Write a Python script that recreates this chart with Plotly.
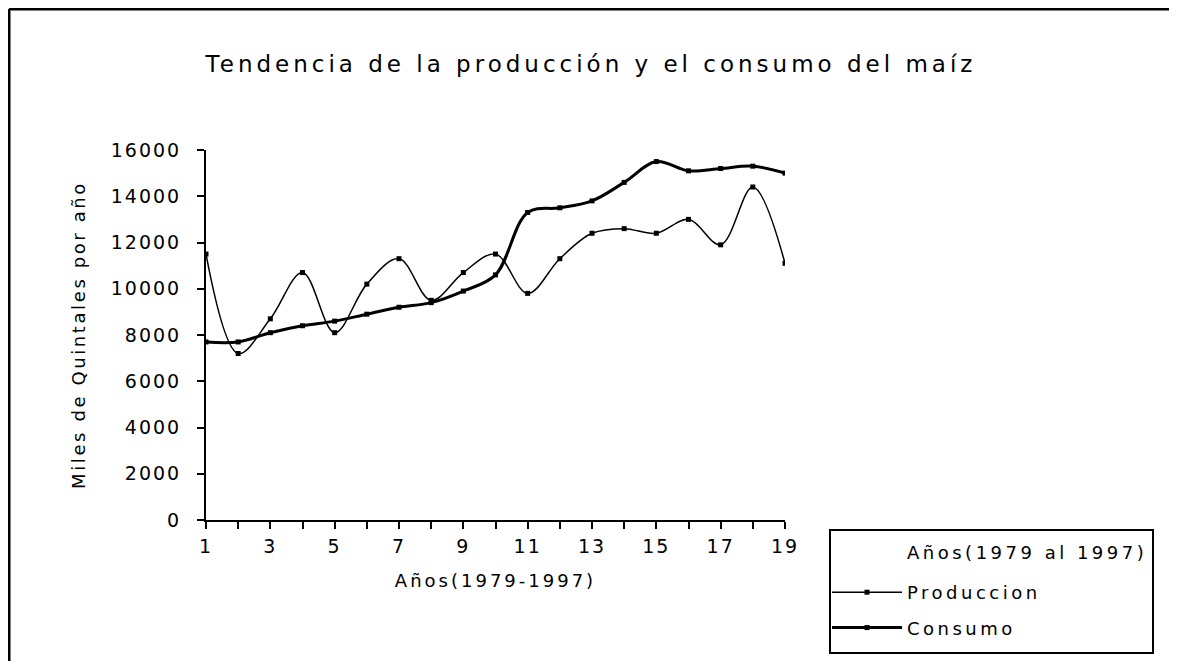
import plotly.graph_objects as go

# ---- Data ----
anios = list(range(1, 20))
x_tick_labels = [str(v) if v % 2 == 1 else "" for v in anios]
produccion = [11500, 7200, 8700, 10700, 8100, 10200, 11300, 9500, 10700, 11500,
              9800, 11300, 12400, 12600, 12400, 13000, 11900, 14400, 11100]
consumo = [7700, 7700, 8100, 8400, 8600, 8900, 9200, 9400, 9900, 10600,
           13300, 13500, 13800, 14600, 15500, 15100, 15200, 15300, 15000]
y_ticks = list(range(0, 16001, 2000))
y_tick_labels = [str(v) for v in y_ticks]

titulo = "Tendencia de la producción y el consumo del maíz"
titulo_x = "Años(1979-1997)"
titulo_y = "Miles de Quintales por año"
titulo_leyenda = "Años(1979 al 1997)"

FONT = "DejaVu Sans"


def spaced(txt, px):
    return f'<span style="letter-spacing:{px}px">{txt}</span>' if txt else ""


# The page body adds an 8px margin; lay the figure out 8px smaller/earlier
OFF = 8
W, H = 1177 - OFF, 661 - OFF
L, R, T, B = 206 - OFF, W - (785 - OFF), 150 - OFF, H - (520 - OFF)
pw, ph = W - L - R, H - T - B


def px_x(px):  # screen px -> paper x
    return (px - OFF - L) / pw


def px_y(py):  # screen px -> paper y
    return (H - B - (py - OFF)) / ph


fig = go.Figure()
fig.add_trace(go.Scatter(
    x=anios, y=produccion, name=spaced("Produccion", 3.5), mode="lines+markers",
    legendgroup="p",
    line=dict(color="black", width=1.5, shape="spline", smoothing=1),
    marker=dict(symbol="square", size=5, color="black"),
))
fig.add_trace(go.Scatter(
    x=anios, y=consumo, name=spaced("Consumo", 3.5), mode="lines+markers",
    legendgroup="c",
    line=dict(color="black", width=3, shape="spline", smoothing=1),
    marker=dict(symbol="square", size=5, color="black"),
))

fig.update_layout(
    width=W, height=H,
    margin=dict(l=L, r=R, t=T, b=B, autoexpand=False),
    paper_bgcolor="white", plot_bgcolor="white",
    font=dict(family=FONT, color="black", size=18),
    title=dict(text=spaced(titulo, 4),
               font=dict(family=FONT, size=23, color="black"),
               x=(591 - OFF) / W, xref="container", xanchor="center",
               y=1 - (64 - OFF) / H, yref="container", yanchor="middle"),
    xaxis=dict(range=[1, 19], tickvals=anios,
               ticktext=[spaced(t, 2) for t in x_tick_labels],
               showgrid=False, zeroline=False, showline=True,
               linecolor="black", linewidth=2, ticks="outside", ticklen=7,
               tickwidth=1.5, tickcolor="black", ticklabelstandoff=1,
               tickfont=dict(family=FONT, size=19),
               title=dict(text=spaced(titulo_x, 3), standoff=19,
                          font=dict(family=FONT, size=18))),
    yaxis=dict(range=[0, 16000], tickvals=y_ticks,
               ticktext=[spaced(t, 2) for t in y_tick_labels],
               showgrid=False, zeroline=False, showline=True,
               linecolor="black", linewidth=2, ticks="outside", ticklen=7,
               tickwidth=1.5, tickcolor="black", ticklabelstandoff=12,
               tickfont=dict(family=FONT, size=19),
               title=dict(text=spaced(titulo_y, 2.6), standoff=20,
                          font=dict(family=FONT, size=18))),
    # overlay axes only to draw the inner half of the crossing tick marks
    xaxis2=dict(range=[1, 19], tickvals=anios, overlaying="x", anchor="y2",
                side="bottom", showticklabels=False, showgrid=False,
                zeroline=False, showline=False, ticks="inside", ticklen=5,
                tickwidth=1.5, tickcolor="black"),
    yaxis2=dict(range=[0, 16000], tickvals=y_ticks, overlaying="y", anchor="x2",
                side="left", showticklabels=False, showgrid=False,
                zeroline=False, showline=False, ticks="inside", ticklen=5,
                tickwidth=1.5, tickcolor="black"),
    showlegend=True,
    legend=dict(
        x=px_x(827), xanchor="left",
        y=px_y(610), yanchor="middle",
        borderwidth=0, bgcolor="rgba(0,0,0,0)",
        itemwidth=70, font=dict(family=FONT, size=18),
        tracegroupgap=9, traceorder="grouped",
    ),
    annotations=[
        dict(text=spaced(titulo_leyenda, 3.5), xref="paper", yref="paper",
             x=px_x(1027), y=px_y(552), xanchor="center", yanchor="middle",
             showarrow=False, font=dict(family=FONT, size=18, color="black")),
    ],
    shapes=[
        # legend frame
        dict(type="rect", xref="paper", yref="paper",
             x0=px_x(830), x1=px_x(1153), y0=px_y(530), y1=px_y(653),
             line=dict(color="black", width=2)),
        # outer chart frame (top and left edges)
        dict(type="line", xref="paper", yref="paper",
             x0=px_x(9), x1=px_x(1177), y0=px_y(9), y1=px_y(9),
             line=dict(color="black", width=3)),
        dict(type="line", xref="paper", yref="paper",
             x0=px_x(9), x1=px_x(9), y0=px_y(9), y1=px_y(661),
             line=dict(color="black", width=3)),
    ],
)

fig.write_html("out.html")
